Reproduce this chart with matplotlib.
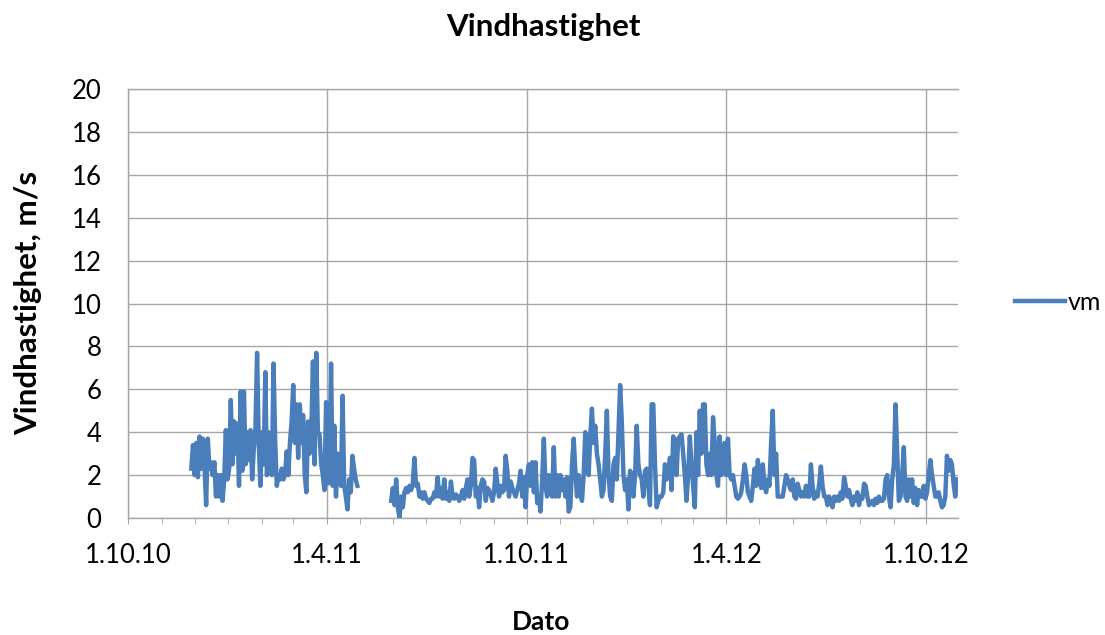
import numpy as np
import pandas as pd
import matplotlib
matplotlib.use("Agg")
import matplotlib.pyplot as plt
import matplotlib.dates as mdates
from matplotlib.ticker import FuncFormatter

plt.rcParams['font.family'] = ['Lato', 'DejaVu Sans']

seg1_start, seg1_end = "2010-11-28", "2011-04-29"
seg1_vm = [2.3, 3.4, 2.0, 3.5, 1.9, 3.8, 2.3, 3.7, 2.5, 0.6, 3.7, 2.3, 2.6, 2.0, 2.6, 1.0,
           2.0, 1.0, 2.0, 0.8, 1.8, 4.1, 1.8, 2.3, 5.5, 2.5, 4.5, 3.0, 4.4, 1.5, 5.9, 2.2,
           5.9, 2.5, 4.0, 2.7, 4.1, 1.8, 3.2, 4.2, 7.7, 3.5, 1.5, 4.0, 2.5, 6.8, 2.0, 4.0,
           2.2, 2.0, 7.2, 3.6, 1.5, 2.0, 1.8, 2.3, 1.8, 2.0, 3.1, 2.0, 3.5, 4.5, 6.2, 3.5,
           5.3, 2.8, 5.3, 3.5, 4.8, 2.0, 1.2, 4.5, 3.0, 4.0, 7.3, 2.5, 7.7, 4.0, 3.9, 2.5,
           2.0, 1.3, 5.4, 1.6, 2.0, 7.2, 1.5, 4.3, 1.0, 3.0, 1.8, 1.5, 5.7, 1.5, 1.0, 0.4,
           1.8, 1.2, 2.9, 2.3, 1.8, 1.5]

seg2_start, seg2_end = "2011-05-30", "2012-10-29"
seg2_vm_2011 = [0.8, 1.4, 0.6, 1.8, 0.5, 0.0, 1.0, 0.5, 1.2, 1.4, 1.2, 1.5, 1.3, 1.6, 2.8, 1.5,
                1.6, 1.0, 1.2, 0.9, 1.2, 0.9, 0.8, 0.7, 0.9, 0.9, 1.2, 1.0, 1.9, 1.0, 1.4, 0.9,
                1.8, 0.9, 1.2, 0.8, 1.7, 1.0, 0.9, 1.1, 1.0, 0.8, 1.0, 1.3, 0.9, 1.4, 1.8, 1.0,
                1.5, 2.8, 2.7, 1.0, 1.4, 0.5, 1.5, 1.8, 1.7, 0.8, 1.4, 1.3, 1.1, 0.8, 1.2, 2.3,
                1.6, 1.0, 1.5, 1.2, 1.3, 2.9, 2.2, 1.0, 1.7, 1.4, 1.2, 1.0, 1.3, 1.6, 2.2, 1.0,
                1.9, 0.5, 2.0, 2.5, 1.5, 2.6, 1.2, 2.6, 0.7, 1.0, 0.3, 1.8, 3.7, 1.5, 1.0, 2.0,
                1.5, 1.0, 3.3, 1.0, 2.0, 1.0, 2.0, 1.3, 1.8, 1.0, 1.9, 0.3, 0.5, 2.5, 3.7, 2.2,
                1.0, 2.0, 1.2, 0.8, 2.0, 4.0, 3.5, 2.0, 3.8, 5.1, 3.5, 4.3, 3.0, 2.5, 1.8, 1.0,
                1.3, 3.0, 5.0, 2.0, 1.0, 0.8, 2.5, 2.8, 1.8, 4.0, 6.2, 4.5, 2.0, 1.3, 1.8, 0.4,
                2.2, 2.0, 1.0, 2.0, 4.3, 2.5, 2.0, 1.8, 1.0, 2.2, 2.3, 1.5, 0.6, 5.3, 5.3, 2.5,
                0.5, 0.8, 1.0, 1.0, 1.2, 2.5, 1.8, 2.0, 2.8, 1.3, 3.8, 3.5, 2.0, 3.7]
seg2_vm_2012 = [3.8, 3.9, 3.0, 2.0, 0.8, 2.0, 3.8, 2.5, 1.5, 0.5, 4.0, 2.0, 5.0, 3.0, 5.3, 5.3,
                2.5, 2.0, 3.0, 2.0, 4.7, 3.5, 2.0, 1.5, 3.8, 2.0, 2.5, 3.5, 2.0, 3.7, 2.0, 1.8,
                2.0, 1.5, 1.0, 0.9, 1.0, 1.2, 1.8, 2.5, 2.0, 1.2, 1.0, 0.8, 1.5, 2.3, 1.5, 2.7,
                2.0, 1.4, 2.5, 1.5, 1.2, 1.8, 1.5, 3.5, 5.0, 2.0, 3.0, 1.0, 1.0, 1.0, 1.0, 1.5,
                2.0, 1.8, 1.5, 1.3, 1.8, 1.0, 0.9, 1.6, 1.3, 1.0, 1.2, 1.0, 1.5, 1.0, 1.0, 2.5,
                1.5, 0.9, 1.2, 1.0, 1.6, 2.4, 1.5, 1.0, 1.0, 0.6, 1.0, 0.8, 0.5, 1.0, 0.8, 1.0,
                0.8, 1.2, 0.9, 1.9, 1.5, 1.0, 1.3, 0.9, 0.6, 1.0, 0.8, 1.2, 0.6, 1.0, 0.9, 1.6,
                1.5, 1.0, 0.6, 0.7, 0.8, 0.6, 0.9, 0.7, 1.0, 0.8, 0.8, 0.9, 1.8, 2.0, 1.0, 0.5,
                1.8, 2.5, 5.3, 3.0, 0.8, 1.0, 2.0, 3.3, 1.0, 0.8, 1.8, 1.0, 1.8, 0.7, 1.4, 0.6,
                1.3, 1.0, 1.0, 1.5, 0.9, 1.2, 2.0, 2.7, 2.0, 1.5, 1.0, 1.0, 1.2, 0.8, 0.5, 0.6,
                1.0, 2.9, 2.2, 2.7, 2.5, 1.6, 1.0, 1.8]

x_min, x_max = "2010-10-01", "2012-10-30"
y_ticks = [0, 2, 4, 6, 8, 10, 12, 14, 16, 18, 20]

seg1_dates = pd.date_range(seg1_start, seg1_end, periods=len(seg1_vm))
seg2_vm = seg2_vm_2011 + seg2_vm_2012
seg2_dates = pd.date_range(seg2_start, seg2_end, periods=len(seg2_vm))

# NaN in between breaks the line over the gap
dates = list(seg1_dates) + [pd.Timestamp("2011-05-15")] + list(seg2_dates)
vm = seg1_vm + [np.nan] + seg2_vm

W, H = 1105, 635
fig = plt.figure(figsize=(W / 100, H / 100), dpi=100)
ax = fig.add_axes([128 / W, 1 - 518 / H, (958 - 128) / W, (518 - 89) / H])

line_color = '#4a7ebb'
grid_color = '#a6a6a6'

ax.plot(dates, vm, color=line_color, lw=3.2, label='vm', solid_joinstyle='round')

ax.set_xlim(pd.Timestamp(x_min), pd.Timestamp(x_max))
ax.set_ylim(0, 20)
ax.set_yticks(y_ticks)

ax.xaxis.set_major_locator(mdates.MonthLocator(bymonth=[4, 10]))
ax.xaxis.set_minor_locator(mdates.MonthLocator())
ax.xaxis.set_major_formatter(FuncFormatter(
    lambda v, pos: (lambda d: f"{d.day}.{d.month}.{d.year % 100:02d}")(mdates.num2date(v))))

ax.grid(True, which='major', color=grid_color, lw=1)
ax.tick_params(axis='x', which='both', direction='out', length=4, color=grid_color,
               labelsize=18.5, pad=14)
ax.tick_params(axis='y', length=0, labelsize=18.5, pad=19)

for s in ['left', 'bottom', 'top']:
    ax.spines[s].set_color(grid_color)
    ax.spines[s].set_linewidth(1)
ax.spines['right'].set_visible(False)

fig.text(543 / W, 1 - 27 / H, 'Vindhastighet', ha='center', va='center',
         fontsize=22.5, fontweight='bold')
fig.text(541 / W, 1 - 622 / H, 'Dato', ha='center', va='center',
         fontsize=19, fontweight='bold')
fig.text(28 / W, 1 - 303 / H, 'Vindhastighet, m/s', ha='center', va='center',
         rotation=90, fontsize=22.5, fontweight='bold')

fig.legend(loc='center left', bbox_to_anchor=(1015 / W, 1 - 302 / H), frameon=False,
           fontsize=18, handlelength=2.0, handletextpad=0.1, borderpad=0,
           borderaxespad=0)

fig.savefig('out.png', dpi=100)
